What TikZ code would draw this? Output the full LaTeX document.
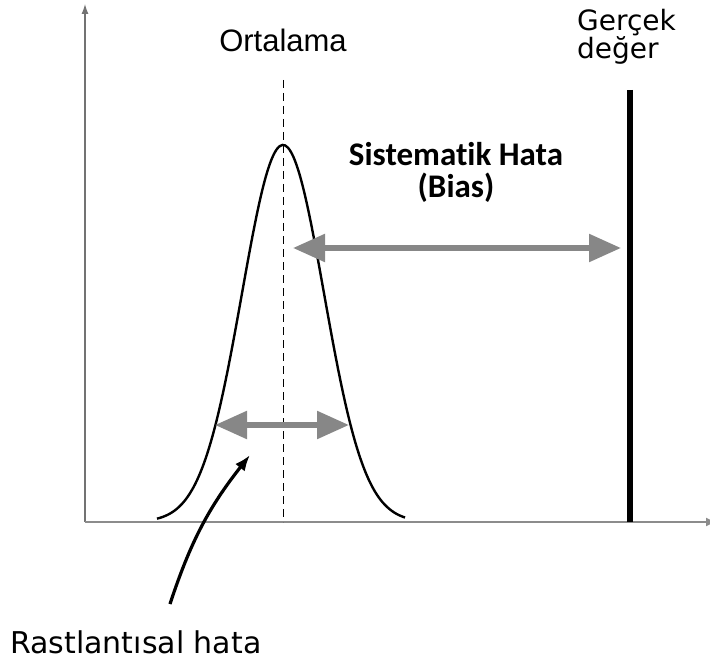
\documentclass[tikz,border=0pt]{standalone}
\usepackage{fontspec}
\newfontfamily\arialfont{Liberation Sans}
\newfontfamily\widefont{DejaVu Sans}
\newfontfamily\calibrifont[Ligatures=NoCommon]{Carlito}
\usetikzlibrary{arrows.meta,positioning}
\definecolor{arrowgray}{RGB}{135,135,135}
\tikzset{
  axisline/.style={line width=1.3pt, black!55},
  grayarrow/.style={line width=5.5pt, arrowgray,
    {Triangle[length=32pt,width=27pt]}-{Triangle[length=32pt,width=27pt]}},
  pointer/.style={line width=3.2pt, -{Latex[length=16pt,width=12pt]}},
}

\begin{document}
\begin{tikzpicture}[x=1pt,y=-1pt]
    \useasboundingbox (0,0) rectangle (710,666);
    % axes
    \coordinate (origin) at (85,522);
    \coordinate (ytop) at (85,4);
    \coordinate (xend) at (716,522);
    \draw[axisline, -{Latex[length=10pt,width=7pt]}] (origin) -- (ytop);
    \draw[axisline, black!45, -{Latex[length=10pt,width=9pt]}] (origin) -- (xend);
    % bell curve
    \draw[line width=2.4pt] plot[domain=157:405, samples=90, smooth]
      (\x, {522-377*exp(-0.5*((\x-283)/41)^2)});
    % mean
    \coordinate (meantop) at (283,80);
    \coordinate (meanbot) at (283,522);
    \draw[line width=1pt, dash pattern=on 8pt off 5pt] (meantop) -- (meanbot);
    \node[font=\arialfont\fontsize{31}{31}\selectfont, anchor=base] (ortalama) at (283,52) {Ortalama};
    % true value
    \coordinate (truetop) at (630,90);
    \coordinate (truebot) at (630,522);
    \draw[line width=5.5pt] (truetop) -- (truebot);
    \node[font=\widefont\fontsize{28}{27}\selectfont, align=left, anchor=base west, inner sep=0pt]
      (gercek) at (577,59) {Gerçek\\değer};
    % bias
    \coordinate (biasL) at (293,248);
    \coordinate (biasR) at (621,248);
    \draw[grayarrow] (biasL) -- (biasR);
    \node[font=\calibrifont\bfseries\fontsize{33}{32}\selectfont, align=center, anchor=base]
      (bias) at (456,197) {Sistematik Hata\\(Bias)};
    % random error
    \coordinate (randL) at (215,425);
    \coordinate (randR) at (349,425);
    \draw[grayarrow] (randL) -- (randR);
    \coordinate (tail) at (170,604);
    \coordinate (head) at (250,455);
    \draw[pointer] (tail) to[bend left=10] (head);
    \node[font=\widefont\fontsize{30}{30}\selectfont, anchor=base west, inner sep=0pt]
      (rastlantisal) at (10,653) {Rastlantısal hata};
  \end{tikzpicture}
\end{document}
